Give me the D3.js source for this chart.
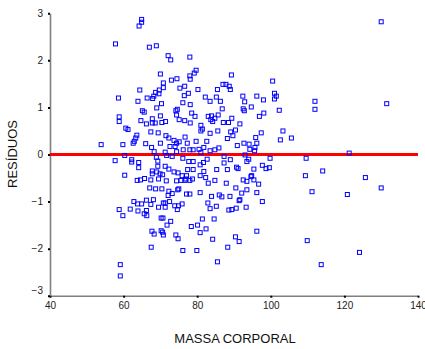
<!DOCTYPE html>
<html>
<head>
<meta charset="utf-8">
<script src="https://cdn.jsdelivr.net/npm/d3@7"></script>
<style>
body{margin:0;background:#fff;}
svg{display:block;font-family:"Liberation Sans",Arial,sans-serif;}
</style>
</head>
<body>
<div id="chart"></div>
<script>
// massa corporal (kg) x residuos
var massa = [
 64.9,64.9,64.2,57.8,67.0,68.9,72.1,72.8,78.0,70.0,
 79.7,79.2,78.0,78.1,74.5,73.0,70.8,70.8,69.7,68.7,
 69.6,68.2,67.9,66.4,64.4,58.6,76.6,75.3,77.6,76.5,
 80.2,82.2,85.2,85.5,87.0,88.7,89.0,89.3,92.4,96.2,
 100.5,101.0,101.5,101.0,130.0,87.8,
 63.9,70.3,69.0,76.1,78.1,74.6,83.5,86.3,92.9,94.7,98.0,86.8,92.5,112.0,112.0,131.5,102.3,
 65.1,65.6,58.8,58.8,60.6,61.2,64.7,66.2,67.8,67.8,
 68.6,70.0,70.4,71.4,74.2,74.4,75.1,76.6,78.1,78.5,
 79.4,83.0,83.9,84.8,85.7,83.7,84.2,87.1,88.5,89.4,
 91.6,92.8,96.9,98.1,
 81.0,81.4,81.0,83.5,85.6,89.1,90.4,89.7,88.2,97.4,
 103.3,95.9,102.6,105.6,67.4,69.4,71.5,72.3,73.7,74.4,
 63.6,63.3,62.9,62.6,53.9,59.8,66.0,70.0,67.6,68.3,
 72.6,74.0,75.1,76.7,77.3,79.7,82.6,81.8,80.5,71.3,
 74.4,76.2,78.0,78.9,81.0,83.5,84.8,85.9,90.9,92.7,
 94.1,95.7,95.6,96.2,94.3,
 121.3,57.7,60.3,62.2,62.2,64.1,64.1,60.3,63.7,64.6,
 65.7,67.8,67.8,68.9,69.3,69.3,71.3,72.3,73.7,69.0,
 69.5,71.6,74.8,67.1,68.7,70.4,72.3,74.7,74.4,71.7,
 73.2,76.1,77.7,78.9,81.7,80.8,82.7,87.3,87.3,89.0,
 93.0,93.5,94.0,99.8,109.6,97.7,99.6,98.7,95.4,114.1,
 94.8,95.4,96.7,109.4,125.7,130.0,111.2,96.2,120.8,97.7,
 90.7,91.1,88.2,85.3,81.8,78.9,77.4,69.9,70.6,75.9,
 76.9,78.7,78.0,76.7,75.6,77.1,80.8,82.3,84.8,83.0,
 87.9,90.5,92.5,93.5,94.6,93.5,92.1,91.6,88.9,86.7,
 86.0,83.9,80.8,82.9,78.0,77.1,75.0,73.2,72.1,67.4,
 68.1,71.3,73.9,75.9,
 62.8,63.8,64.9,66.2,67.4,58.8,59.8,61.8,63.9,66.2,
 65.6,66.3,69.5,70.8,71.3,72.5,74.9,74.6,70.2,70.7,
 72.8,71.8,67.7,68.3,70.2,70.6,70.8,74.2,74.8,67.5,
 59.1,59.1,83.5,85.2,88.6,89.4,90.6,93.3,91.4,81.4,
 84.6,80.1,78.4,82.4,80.8,84.2,90.4,91.4,96.2,76.1,
 79.9,88.3,85.5,109.9,124.1,113.7
];
var residuos = [
 2.87,2.81,2.73,2.35,2.28,2.31,2.10,2.01,2.07,1.71,
 1.79,1.73,1.67,1.60,1.61,1.58,1.52,1.42,1.37,1.32,
 1.29,1.24,1.19,1.20,1.37,1.20,1.45,1.41,1.30,1.25,
 1.38,1.22,1.22,1.38,1.49,1.45,1.38,1.69,1.24,1.24,
 1.56,1.30,1.24,1.18,2.82,1.49,
 1.13,1.08,0.99,1.10,1.06,0.96,1.13,1.13,1.12,1.01,1.16,0.97,0.97,1.13,0.96,1.08,0.94,
 0.93,0.90,0.80,0.70,0.56,0.53,0.72,0.65,0.76,0.67,
 0.67,0.82,0.68,0.70,0.93,0.84,0.74,0.72,0.67,0.88,
 0.81,0.81,0.82,0.77,0.84,0.74,0.70,0.68,0.68,0.77,
 0.65,0.93,0.81,0.88,
 0.62,0.54,0.50,0.45,0.50,0.48,0.52,0.40,0.34,0.46,
 0.50,0.36,0.31,0.35,0.48,0.46,0.40,0.35,0.30,0.24,
 0.41,0.35,0.28,0.24,0.21,0.21,0.23,0.24,0.15,0.06,
 0.17,0.17,0.27,0.37,0.24,0.28,0.28,0.15,0.11,0.05,
 0.06,0.10,0.10,0.10,0.04,0.08,0.10,0.14,0.19,0.24,
 0.22,0.15,0.08,0.24,0.11,
 0.03,-0.13,-0.02,-0.11,-0.16,-0.17,-0.28,-0.44,-0.55,-0.54,
 -0.51,-0.35,-0.41,-0.06,-0.14,-0.25,-0.25,-0.31,-0.37,-0.37,
 -0.52,-0.56,-0.39,-0.71,-0.73,-0.73,-0.78,-0.75,-0.56,-0.02,
 -0.04,-0.08,-0.15,-0.15,-0.17,-0.22,-0.10,-0.04,-0.18,-0.11,
 -0.01,-0.15,-0.10,-0.08,-0.08,-0.23,-0.28,-0.30,-0.31,-0.35,
 -0.45,-0.54,-0.63,-0.45,-0.49,-0.71,-0.79,-0.81,-0.85,-1.00,
 -0.27,-0.30,-0.32,-0.32,-0.36,-0.32,-0.32,-0.41,-0.43,-0.45,
 -0.52,-0.52,-0.55,-0.55,-0.55,-0.45,-0.45,-0.49,-0.55,-0.61,
 -0.61,-0.71,-0.54,-0.57,-0.47,-0.75,-0.82,-0.96,-0.89,-0.90,
 -0.86,-0.89,-0.81,-1.03,-0.84,-0.84,-0.73,-0.83,-0.87,-0.54,
 -0.96,-1.03,-1.09,-1.05,
 -1.00,-1.05,-1.05,-0.97,-1.06,-1.17,-1.30,-1.16,-1.20,-1.19,
 -1.26,-1.30,-1.12,-1.03,-1.12,-1.00,-1.09,-1.17,-1.35,-1.35,
 -1.42,-1.50,-1.63,-1.69,-1.62,-1.65,-1.71,-1.71,-1.79,-1.97,
 -2.34,-2.58,-1.15,-1.10,-1.18,-1.17,-1.14,-1.12,-0.98,-1.37,
 -1.37,-1.50,-1.53,-1.58,-1.66,-1.80,-1.75,-1.85,-1.63,-2.04,
 -2.04,-1.97,-2.28,-1.83,-2.08,-2.34
];
var xTicks = [40,60,80,100,120,140];
var yTicks = [-3,-2,-1,0,1,2,3];

var w = 425, h = 349;
var svg = d3.select("#chart").append("svg")
	.attr("width", w)
	.attr("height", h);

var x = d3.scaleLinear().domain([40,140]).range([50,418]);
var y = d3.scaleLinear().domain([-3,3]).range([295.7,13.3]);

//axes
var xAxis = svg.append("g")
	.attr("transform","translate(0,295.7)")
	.call(d3.axisBottom(x).tickValues(xTicks).tickSizeInner(2).tickSizeOuter(0).tickPadding(4).tickFormat(d3.format("d")));
var yAxis = svg.append("g")
	.attr("transform","translate(50,0)")
	.call(d3.axisLeft(y).tickValues(yTicks).tickSizeInner(2).tickSizeOuter(0).tickPadding(5).tickFormat(d3.format("d")));

[xAxis,yAxis].forEach(function(a){
	a.select(".domain").attr("stroke","#808080").attr("stroke-width",1.6);
	a.selectAll(".tick line").attr("stroke","#000").attr("stroke-width",2);
	a.selectAll(".tick text").attr("fill","#222").style("font-size","10px")
	 .style("font-family","'Liberation Sans',Arial,sans-serif");
});
// -3 sits a little higher in the original
yAxis.selectAll(".tick text").filter(function(d){return d==-3;}).attr("dy","-0.2em");

//zero line
svg.append("line")
	.attr("x1",x(40)).attr("x2",x(140))
	.attr("y1",y(0)).attr("y2",y(0))
	.attr("stroke","#ff0000")
	.attr("stroke-width",3);

//points
var pts = massa.map(function(d,i){ return [d,residuos[i]]; });
svg.append("g").selectAll("rect")
	.data(pts)
	.enter()
	.append("rect")
	.attr("x",function(d){ return x(d[0])-2; })
	.attr("y",function(d){ return y(d[1])-2; })
	.attr("width",4)
	.attr("height",4)
	.attr("fill","none")
	.attr("stroke","#0000ff")
	.attr("stroke-width",1);

//labels
svg.append("text")
	.attr("x",235).attr("y",343)
	.attr("text-anchor","middle")
	.attr("fill","#111")
	.style("font-size","13px")
	.text("MASSA CORPORAL");
svg.append("text")
	.attr("transform","translate(17,154) rotate(-90)")
	.attr("text-anchor","middle")
	.attr("fill","#111")
	.style("font-size","13px")
	.text("RESÍDUOS");
</script>
</body>
</html>
